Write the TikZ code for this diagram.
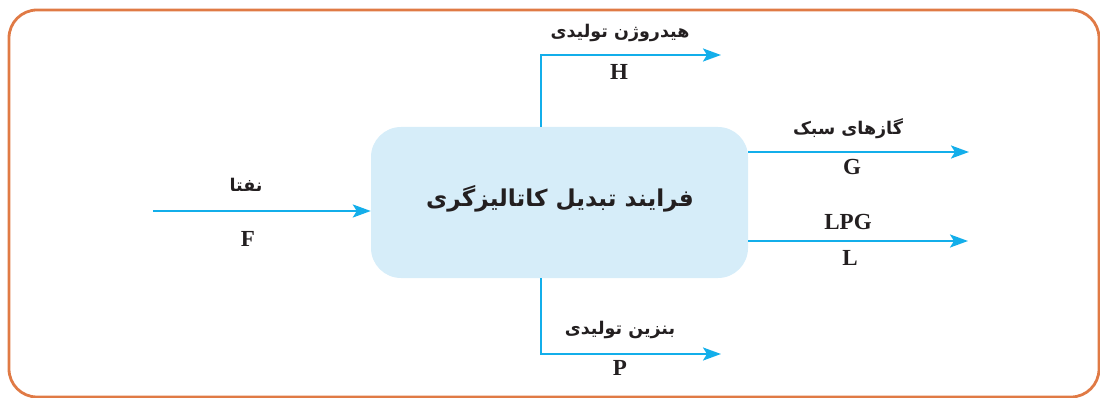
\documentclass[tikz,border=0pt]{standalone}
\usepackage{fontspec}
\setmainfont{Liberation Serif}
\newfontfamily\arfont[Script=Arabic]{DejaVu Sans}
\TeXXeTstate=1
\usetikzlibrary{arrows.meta}
\definecolor{frameorange}{HTML}{E07A45}
\definecolor{flowblue}{HTML}{13AEEA}
\definecolor{boxblue}{HTML}{D6EDF9}
\definecolor{inkdark}{HTML}{231F20}
\tikzset{
  frame/.style={draw=frameorange, line width=2.8pt, rounded corners=28pt},
  procbox/.style={fill=boxblue, draw=none, rounded corners=30pt, minimum width=377pt, minimum height=151pt, inner sep=0pt},
  flow/.style={draw=flowblue, line width=2.5pt, -{Stealth[length=18pt,width=13pt,inset=4pt]}},
  arlabel/.style={text=inkdark, font=\arfont\bfseries\fontsize{17.5}{20}\selectfont, inner sep=0pt},
  latlabel/.style={text=inkdark, font=\bfseries\fontsize{23}{26}\selectfont, inner sep=0pt},
  titlelabel/.style={text=inkdark, font=\arfont\bfseries\fontsize{23.2}{27}\selectfont, inner sep=0pt}
}
\begin{document}
\begin{tikzpicture}[x=1pt,y=-1pt]
\useasboundingbox (0,0) rectangle (1100,398);
\draw[frame] (9,10) rectangle (1099,397);
\node[procbox] (proc) at (559.5,202.5) {};
\node[titlelabel] (title) at (560,199) {\beginR فرایند تبدیل کاتالیزگری\endR};
% input
\coordinate (fin) at (153,211);
\draw[flow] (fin) -- (proc.west |- fin);
\node[arlabel] (ftxt) at (246,185) {\beginR نفتا\endR};
\node[latlabel] (fsym) at (248,239) {F};
% hydrogen
\coordinate (hup) at (541,55);
\coordinate (hend) at (721,55);
\draw[flow] (proc.north -| hup) -- (hup) -- (hend);
\node[arlabel] (htxt) at (620,33) {\beginR هیدروژن تولیدی\endR};
\node[latlabel] (hsym) at (619,72) {H};
% gasoline
\coordinate (pdn) at (541,354);
\coordinate (pend) at (721,354);
\draw[flow] (proc.south -| pdn) -- (pdn) -- (pend);
\node[arlabel] (ptxt) at (620,330) {\beginR بنزین تولیدی\endR};
\node[latlabel] (psym) at (620,368) {P};
% light gases
\coordinate (gend) at (969,152);
\draw[flow] (proc.east |- gend) -- (gend);
\node[arlabel] (gtxt) at (848,129) {\beginR گازهای سبک\endR};
\node[latlabel] (gsym) at (852,167) {G};
% LPG
\coordinate (lend) at (968,241);
\draw[flow] (proc.east |- lend) -- (lend);
\node[latlabel] (ltxt) at (848,222) {LPG};
\node[latlabel] (lsym) at (850,258) {L};
\end{tikzpicture}
\end{document}
